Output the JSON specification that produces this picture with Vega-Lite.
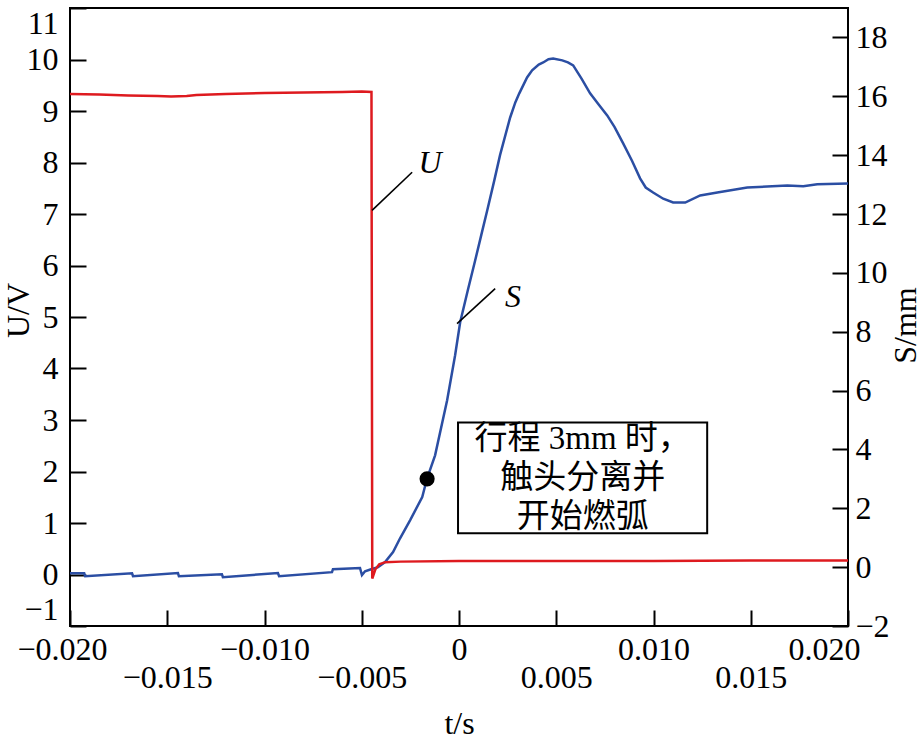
{
  "$schema": "https://vega.github.io/schema/vega-lite/v6.json",
  "width": 778,
  "height": 618,
  "autosize": {"type": "none"},
  "padding": {"left": 70, "top": 8, "right": 75, "bottom": 116},
  "background": "white",
  "config": {
    "font": "Liberation Serif",
    "view": {"stroke": "black", "strokeWidth": 2},
    "axis": {
      "domain": false, "grid": false,
      "tickColor": "black", "tickWidth": 2, "tickSize": -16,
      "labelColor": "black", "labelFont": "Liberation Serif", "labelFontSize": 32,
      "titleFont": "Liberation Serif", "titleFontSize": 32, "titleFontWeight": "normal", "titleColor": "black",
      "labelOverlap": false, "labelFlush": false
    }
  },
  "datasets": {
    "S": [
      {"t": -0.02, "S": -0.21}, {"t": -0.01927, "S": -0.21}, {"t": -0.01922, "S": -0.31},
      {"t": -0.01681, "S": -0.21}, {"t": -0.01676, "S": -0.31},
      {"t": -0.01445, "S": -0.2}, {"t": -0.0144, "S": -0.31},
      {"t": -0.01219, "S": -0.24}, {"t": -0.01214, "S": -0.34},
      {"t": -0.00931, "S": -0.2}, {"t": -0.00925, "S": -0.31},
      {"t": -0.00653, "S": -0.17}, {"t": -0.00648, "S": -0.07},
      {"t": -0.00509, "S": -0.03}, {"t": -0.00499, "S": -0.27}, {"t": -0.00483, "S": -0.14},
      {"t": -0.00452, "S": -0.07}, {"t": -0.00416, "S": 0.0}, {"t": -0.0038, "S": 0.17},
      {"t": -0.00339, "S": 0.51}, {"t": -0.00303, "S": 0.98}, {"t": -0.00251, "S": 1.6},
      {"t": -0.00189, "S": 2.38}, {"t": -0.00164, "S": 3.02}, {"t": -0.00123, "S": 3.8},
      {"t": -0.00061, "S": 5.67}, {"t": -0.0002, "S": 7.2}, {"t": 0.00006, "S": 8.32},
      {"t": 0.00045, "S": 9.4}, {"t": 0.00083, "S": 10.42}, {"t": 0.00115, "S": 11.3},
      {"t": 0.00145, "S": 12.12}, {"t": 0.0018, "S": 13.1}, {"t": 0.00211, "S": 14.0},
      {"t": 0.00263, "S": 15.28}, {"t": 0.0029, "S": 15.8}, {"t": 0.0031, "S": 16.1}, {"t": 0.0035, "S": 16.64},
      {"t": 0.00376, "S": 16.88}, {"t": 0.0041, "S": 17.08}, {"t": 0.00433, "S": 17.15}, {"t": 0.0046, "S": 17.26}, {"t": 0.00484, "S": 17.28},
      {"t": 0.00531, "S": 17.22}, {"t": 0.0056, "S": 17.15}, {"t": 0.00587, "S": 17.05}, {"t": 0.0063, "S": 16.6},
      {"t": 0.00674, "S": 16.1}, {"t": 0.0072, "S": 15.7}, {"t": 0.00762, "S": 15.35}, {"t": 0.0080, "S": 14.95}, {"t": 0.00844, "S": 14.4},
      {"t": 0.0089, "S": 13.8}, {"t": 0.00931, "S": 13.21}, {"t": 0.0096, "S": 12.9}, {"t": 0.00998, "S": 12.73}, {"t": 0.0105, "S": 12.52}, {"t": 0.01101, "S": 12.39},
      {"t": 0.01163, "S": 12.39}, {"t": 0.0124, "S": 12.63}, {"t": 0.01328, "S": 12.73},
      {"t": 0.01482, "S": 12.9}, {"t": 0.01688, "S": 12.97}, {"t": 0.0177, "S": 12.94},
      {"t": 0.01842, "S": 13.01}, {"t": 0.02, "S": 13.04}
    ],
    "U": [
      {"t": -0.02, "U": 9.33}, {"t": -0.0185, "U": 9.32}, {"t": -0.017, "U": 9.3},
      {"t": -0.0155, "U": 9.29}, {"t": -0.0148, "U": 9.28}, {"t": -0.014, "U": 9.29},
      {"t": -0.0135, "U": 9.31}, {"t": -0.012, "U": 9.33}, {"t": -0.01, "U": 9.35},
      {"t": -0.008, "U": 9.36}, {"t": -0.006, "U": 9.37}, {"t": -0.005, "U": 9.38},
      {"t": -0.0045, "U": 9.37}, {"t": -0.00446, "U": -0.08}, {"t": -0.0043, "U": 0.1},
      {"t": -0.0041, "U": 0.2}, {"t": -0.0038, "U": 0.24}, {"t": -0.003, "U": 0.25},
      {"t": 0.0, "U": 0.26}, {"t": 0.005, "U": 0.26}, {"t": 0.01, "U": 0.26},
      {"t": 0.015, "U": 0.27}, {"t": 0.02, "U": 0.27}
    ],
    "dot": [{"t": -0.00164, "S": 3.0}],
    "leaders": [
      {"t": -0.00447, "U": 7.07, "t2": -0.00241, "U2": 7.81},
      {"t": -0.0001, "U": 4.87, "t2": 0.00186, "U2": 5.55}
    ],
    "labels": [
      {"t": -0.00149, "U": 8.0, "label": "U"},
      {"t": 0.00278, "U": 5.38, "label": "S"}
    ],
    "box": [{"t": -0.00005, "U": 2.95, "t2": 0.01276, "U2": 0.8}],
    "note": [{"t": 0.00636, "U": 2.64, "label": "行程 3mm 时，\n触头分离并\n开始燃弧"}]
  },
  "layer": [
    {
      "layer": [
        {
          "data": {"name": "S"},
          "mark": {"type": "line", "color": "#2b4ea3", "strokeWidth": 2.5},
          "encoding": {
            "x": {
              "field": "t", "type": "quantitative",
              "scale": {"domain": [-0.02, 0.02], "nice": false, "zero": false},
              "axis": {
                "values": [-0.02, -0.015, -0.01, -0.005, 0, 0.005, 0.01, 0.015, 0.02],
                "format": ".3f",
                "labelExpr": "abs(datum.value) < 1e-9 ? '0' : (abs(round(datum.value*1000)) % 10 == 0 ? datum.label : ['', datum.label])",
                "labelOffset": {"condition": [{"test": "datum.value > 0.019", "value": -24}, {"test": "datum.value < -0.019", "value": -8}], "value": 0},
                "labelPadding": 24, "labelLineHeight": 28, "labelBaseline": "top",
                "title": "t/s", "titleX": 389, "titleY": 97, "titleBaseline": "middle", "titleAlign": "center"
              }
            },
            "y": {
              "field": "S", "type": "quantitative",
              "scale": {"domain": [-2, 19], "nice": false, "zero": false},
              "axis": {
                "orient": "right",
                "values": [-2, 0, 2, 4, 6, 8, 10, 12, 14, 16, 18],
                "title": "S/mm", "titleAngle": 270, "titleX": 57, "titleY": 317,
                "titleBaseline": "middle", "titleAlign": "center", "labelPadding": 23
              }
            }
          }
        },
        {
          "data": {"name": "dot"},
          "mark": {"type": "point", "filled": true, "color": "black", "size": 230, "opacity": 1},
          "encoding": {
            "x": {"field": "t", "type": "quantitative", "title": "t/s"},
            "y": {"field": "S", "type": "quantitative", "title": "S/mm"}
          }
        }
      ]
    },
    {
      "layer": [
        {
          "data": {"name": "U"},
          "mark": {"type": "line", "color": "#de1a1f", "strokeWidth": 2.5},
          "encoding": {
            "x": {"field": "t", "type": "quantitative", "title": "t/s"},
            "y": {
              "field": "U", "type": "quantitative",
              "scale": {"domain": [-1, 11], "nice": false, "zero": false},
              "axis": {
                "orient": "left",
                "values": [-1, 0, 1, 2, 3, 4, 5, 6, 7, 8, 9, 10, 11],
                "title": "U/V", "titleAngle": 270, "titleX": -52, "titleY": 302,
                "titleBaseline": "middle", "titleAlign": "center",
                "labelPadding": 28, "labelFlush": true
              }
            }
          }
        },
        {
          "data": {"name": "leaders"},
          "mark": {"type": "rule", "color": "black", "strokeWidth": 1.6},
          "encoding": {
            "x": {"field": "t", "type": "quantitative", "title": "t/s"},
            "x2": {"field": "t2"},
            "y": {"field": "U", "type": "quantitative", "title": "U/V"},
            "y2": {"field": "U2"}
          }
        },
        {
          "data": {"name": "labels"},
          "mark": {"type": "text", "font": "Liberation Serif", "fontStyle": "italic", "fontSize": 32, "color": "black", "align": "center", "baseline": "middle"},
          "encoding": {
            "x": {"field": "t", "type": "quantitative", "title": "t/s"},
            "y": {"field": "U", "type": "quantitative", "title": "U/V"},
            "text": {"field": "label"}
          }
        },
        {
          "data": {"name": "box"},
          "mark": {"type": "rect", "fill": "white", "stroke": "black", "strokeWidth": 2},
          "encoding": {
            "x": {"field": "t", "type": "quantitative", "title": "t/s"},
            "x2": {"field": "t2"},
            "y": {"field": "U", "type": "quantitative", "title": "U/V"},
            "y2": {"field": "U2"}
          }
        },
        {
          "data": {"name": "note"},
          "mark": {"type": "text", "font": "Liberation Serif, Noto Sans CJK SC", "fontSize": 33, "lineHeight": 39, "lineBreak": "\n", "color": "black", "align": "center", "baseline": "middle"},
          "encoding": {
            "x": {"field": "t", "type": "quantitative", "title": "t/s"},
            "y": {"field": "U", "type": "quantitative", "title": "U/V"},
            "text": {"field": "label"}
          }
        }
      ]
    }
  ],
  "resolve": {"scale": {"y": "independent"}}
}
